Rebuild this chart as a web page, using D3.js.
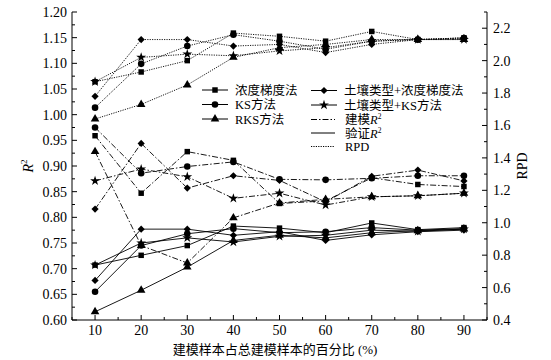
<!DOCTYPE html>
<html><head><meta charset="utf-8">
<script src="https://cdn.jsdelivr.net/npm/d3@7"></script>
<style>
html,body{margin:0;padding:0;background:#fff;}
text{font-family:"Liberation Serif","Times New Roman","Noto Sans CJK SC",serif;fill:#000;}
</style></head>
<body><svg id="c" width="551" height="360"></svg>
<script>
// ---- data ----
const xPercent = [10, 20, 30, 40, 50, 60, 70, 80, 90];
const methodNames = ["浓度梯度法", "KS方法", "RKS方法", "土壤类型+浓度梯度法", "土壤类型+KS方法"];
const methodSymbols = ["square", "circle", "triangle", "diamond", "star"];
const lineTypeNames = ["建模R", "验证R", "RPD"];

// calibration (modelling) R2 - dash-dot
const calR2_conc     = [0.959, 0.847, 0.928, 0.911, 0.827, 0.832, 0.877, 0.864, 0.860];
const calR2_ks       = [0.975, 0.886, 0.899, 0.908, 0.874, 0.873, 0.876, 0.881, 0.881];
const calR2_rks      = [0.928, 0.745, 0.711, 0.799, 0.828, 0.835, 0.840, 0.842, 0.847];
const calR2_soilConc = [0.816, 0.944, 0.857, 0.881, 0.872, 0.830, 0.880, 0.892, 0.871];
const calR2_soilKs   = [0.871, 0.894, 0.879, 0.837, 0.847, 0.824, 0.840, 0.842, 0.847];

// validation R2 - solid
const valR2_conc     = [0.707, 0.726, 0.745, 0.783, 0.779, 0.770, 0.789, 0.776, 0.780];
const valR2_ks       = [0.655, 0.745, 0.768, 0.778, 0.770, 0.772, 0.780, 0.775, 0.778];
const valR2_rks      = [0.616, 0.658, 0.703, 0.755, 0.765, 0.760, 0.770, 0.774, 0.777];
const valR2_soilConc = [0.677, 0.777, 0.777, 0.765, 0.772, 0.755, 0.766, 0.772, 0.775];
const valR2_soilKs   = [0.707, 0.750, 0.760, 0.752, 0.763, 0.765, 0.775, 0.773, 0.777];

// RPD - dotted (right axis)
const rpd_conc     = [1.87, 1.93, 2.00, 2.17, 2.15, 2.12, 2.18, 2.13, 2.14];
const rpd_ks       = [1.71, 1.98, 2.09, 2.16, 2.12, 2.07, 2.12, 2.13, 2.14];
const rpd_rks      = [1.64, 1.73, 1.85, 2.02, 2.08, 2.10, 2.13, 2.13, 2.13];
const rpd_soilConc = [1.78, 2.13, 2.13, 2.09, 2.10, 2.05, 2.10, 2.13, 2.14];
const rpd_soilKs   = [1.87, 2.02, 2.04, 2.03, 2.06, 2.08, 2.12, 2.13, 2.13];

const xTicks = [10, 20, 30, 40, 50, 60, 70, 80, 90];
const yLeftTicks = [0.60, 0.65, 0.70, 0.75, 0.80, 0.85, 0.90, 0.95, 1.00, 1.05, 1.10, 1.15, 1.20];
const yRightTicks = [0.4, 0.6, 0.8, 1.0, 1.2, 1.4, 1.6, 1.8, 2.0, 2.2];
const xLabel = "建模样本占总建模样本的百分比 (%)";

const calSets = [calR2_conc, calR2_ks, calR2_rks, calR2_soilConc, calR2_soilKs];
const valSets = [valR2_conc, valR2_ks, valR2_rks, valR2_soilConc, valR2_soilKs];
const rpdSets = [rpd_conc, rpd_ks, rpd_rks, rpd_soilConc, rpd_soilKs];

// ---- layout ----
const svg = d3.select("#c");
const L = 72, R = 487, T = 12, B = 320;
const x = d3.scaleLinear().domain([5, 95]).range([L, R]);
const yL = d3.scaleLinear().domain([0.60, 1.20]).range([B, T]);
const yR = d3.scaleLinear().domain([0.4, 2.3]).range([B, T]);

const symMap = {
  square: {t: d3.symbolSquare, s: 30, r: 0},
  circle: {t: d3.symbolCircle, s: 34, r: 0},
  triangle: {t: d3.symbolTriangle, s: 32, r: 0},
  diamond: {t: d3.symbolSquare, s: 26, r: 45},
  star: {t: d3.symbolStar, s: 30, r: 0}
};
function drawSym(g, name, cx, cy) {
  const m = symMap[name];
  g.append("path").attr("d", d3.symbol().type(m.t).size(m.s)())
    .attr("transform", `translate(${cx},${cy}) rotate(${m.r})`)
    .attr("fill", "#000");
}

const styles = {
  cal: {dash: "6,2,1.5,2", w: 0.9},
  val: {dash: null, w: 0.9},
  rpd: {dash: "1.2,1.2", w: 0.9}
};

const plot = svg.append("g");
function drawSeries(sets, yScale, st) {
  sets.forEach((vals, i) => {
    const line = d3.line().x((d, k) => x(xPercent[k])).y(d => yScale(d));
    plot.append("path").attr("d", line(vals)).attr("fill", "none")
      .attr("stroke", "#000").attr("stroke-width", st.w)
      .attr("stroke-dasharray", st.dash);
  });
}
drawSeries(rpdSets, yR, styles.rpd);
drawSeries(calSets, yL, styles.cal);
drawSeries(valSets, yL, styles.val);
function drawMarkers(sets, yScale) {
  sets.forEach((vals, i) => {
    vals.forEach((v, k) => drawSym(plot, methodSymbols[i], x(xPercent[k]), yScale(v)));
  });
}
drawMarkers(rpdSets, yR);
drawMarkers(calSets, yL);
drawMarkers(valSets, yL);

// ---- axes ----
const ax = svg.append("g").attr("stroke", "#000").attr("stroke-width", 1);
ax.append("line").attr("x1", L).attr("x2", R).attr("y1", B).attr("y2", B);
ax.append("line").attr("x1", L).attr("x2", L).attr("y1", T).attr("y2", B);
ax.append("line").attr("x1", R).attr("x2", R).attr("y1", T).attr("y2", B);

const xMinor = d3.range(5, 95.01, 5).filter(v => xTicks.indexOf(v) < 0);
xTicks.forEach(v => ax.append("line").attr("x1", x(v)).attr("x2", x(v)).attr("y1", B).attr("y2", B - 5));
xMinor.forEach(v => ax.append("line").attr("x1", x(v)).attr("x2", x(v)).attr("y1", B).attr("y2", B - 3));
svg.append("g").selectAll("text").data(xTicks).join("text")
  .attr("x", d => x(d)).attr("y", 335).attr("text-anchor", "middle")
  .attr("font-size", 14).text(d => d);

const yLMinor = d3.range(0, 12).map(i => 0.625 + i * 0.05);
yLeftTicks.forEach(v => ax.append("line").attr("x1", L).attr("x2", L + 5).attr("y1", yL(v)).attr("y2", yL(v)));
yLMinor.forEach(v => ax.append("line").attr("x1", L).attr("x2", L + 3).attr("y1", yL(v)).attr("y2", yL(v)));
svg.append("g").selectAll("text").data(yLeftTicks).join("text")
  .attr("x", 67).attr("y", d => yL(d) + 5).attr("text-anchor", "end")
  .attr("font-size", 14).text(d => d.toFixed(2));

const yRMinor = d3.range(0, 10).map(i => 0.5 + i * 0.2);
yRightTicks.forEach(v => ax.append("line").attr("x1", R).attr("x2", R - 5).attr("y1", yR(v)).attr("y2", yR(v)));
yRMinor.forEach(v => ax.append("line").attr("x1", R).attr("x2", R - 3).attr("y1", yR(v)).attr("y2", yR(v)));
svg.append("g").selectAll("text").data(yRightTicks).join("text")
  .attr("x", 493).attr("y", d => yR(d) + 5).attr("text-anchor", "start")
  .attr("font-size", 14).text(d => d.toFixed(1));

// axis titles
const lt = svg.append("text").attr("transform", "translate(33,166) rotate(-90)")
  .attr("text-anchor", "middle").attr("font-size", 14);
lt.append("tspan").attr("font-style", "italic").text("R");
lt.append("tspan").attr("font-size", 9).attr("dy", -6).text("2");
svg.append("text").attr("transform", "translate(527,166) rotate(-90)")
  .attr("text-anchor", "middle").attr("font-size", 14).text("RPD");
svg.append("text").attr("x", 275).attr("y", 354).attr("text-anchor", "middle")
  .attr("font-size", 13).text(xLabel);

// ---- legend ----
const lg = svg.append("g");
const legendFont = 12.5;
function legendMarkerRow(cx0, cx1, y, sym, label) {
  lg.append("line").attr("x1", cx0).attr("x2", cx1).attr("y1", y).attr("y2", y)
    .attr("stroke", "#000").attr("stroke-width", 1);
  drawSym(lg, sym, (cx0 + cx1) / 2, y);
  lg.append("text").attr("x", cx1 + 7).attr("y", y + 4.5).attr("font-size", legendFont).text(label);
}
legendMarkerRow(202, 228, 90, methodSymbols[0], methodNames[0]);
legendMarkerRow(202, 228, 104.5, methodSymbols[1], methodNames[1]);
legendMarkerRow(202, 228, 119, methodSymbols[2], methodNames[2]);
legendMarkerRow(311, 337, 90.5, methodSymbols[3], methodNames[3]);
legendMarkerRow(311, 337, 105, methodSymbols[4], methodNames[4]);
const lineStyleList = [styles.cal, styles.val, styles.rpd];
[119.5, 133, 146.5].forEach((y, i) => {
  lg.append("line").attr("x1", 311).attr("x2", 335).attr("y1", y).attr("y2", y)
    .attr("stroke", "#000").attr("stroke-width", 1).attr("stroke-dasharray", lineStyleList[i].dash);
  const t = lg.append("text").attr("x", 345).attr("y", y + 4.5).attr("font-size", legendFont);
  if (i < 2) {
    t.append("tspan").text(lineTypeNames[i].slice(0, 2));
    t.append("tspan").attr("font-style", "italic").text("R");
    t.append("tspan").attr("font-size", 7.5).attr("dy", -5).text("2");
  } else {
    t.text(lineTypeNames[i]);
  }
});
</script></body></html>
